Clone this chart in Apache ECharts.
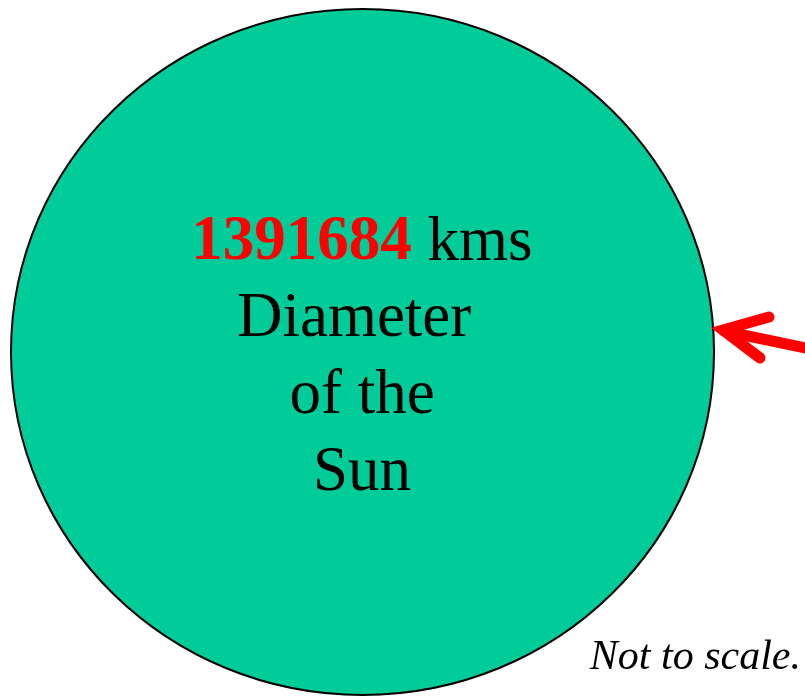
<!DOCTYPE html>
<html>
<head>
<meta charset="utf-8">
<script src="https://cdn.jsdelivr.net/npm/echarts@6/dist/echarts.min.js"></script>
<style>html,body{margin:0;padding:0;background:#fff}#c{width:805px;height:697px}</style>
</head>
<body>
<div id="c"></div>
<script>
var diameterValue = ['1391684'];
var unitLabel = ['kms'];
var captionLines = ['Diameter ', 'of the', 'Sun'];
var footNote = ['Not to scale.'];

var chart = echarts.init(document.getElementById('c'), null, {renderer: 'canvas'});
var font = '"Liberation Serif", "Times New Roman", serif';
var graphics = [
  {type: 'ellipse', shape: {cx: 362.5, cy: 352, rx: 351.5, ry: 343},
   style: {fill: '#00CC99', stroke: '#000', lineWidth: 2}},
  {type: 'text', x: 362, y: 243,
   style: {text: '{a|' + diameterValue[0] + '}{b|\u00a0' + unitLabel[0] + '}', align: 'center', verticalAlign: 'middle',
     rich: {a: {fontFamily: font, fontSize: 63, fontWeight: 'bold', fill: '#FF0000'},
            b: {fontFamily: font, fontSize: 63, fill: '#000'}}}}
];
captionLines.forEach(function (t, i) {
  graphics.push({type: 'text', x: 362, y: 319 + i * 77,
    style: {text: t, align: 'center', verticalAlign: 'middle', font: '63px ' + font, fill: '#000'}});
});
graphics.push({type: 'polyline', shape: {points: [[769, 317], [723, 330], [760, 358]]},
  style: {stroke: '#FF0000', lineWidth: 11, lineCap: 'round', lineJoin: 'miter', fill: null}});
graphics.push({type: 'line', shape: {x1: 724, y1: 331, x2: 815, y2: 350},
  style: {stroke: '#FF0000', lineWidth: 11, lineCap: 'round'}});
graphics.push({type: 'text', x: 801, y: 679,
  style: {text: footNote[0], align: 'right', verticalAlign: 'bottom', font: 'italic 42px ' + font, fill: '#000'}});

chart.setOption({animation: false, graphic: graphics});
</script>
</body>
</html>
